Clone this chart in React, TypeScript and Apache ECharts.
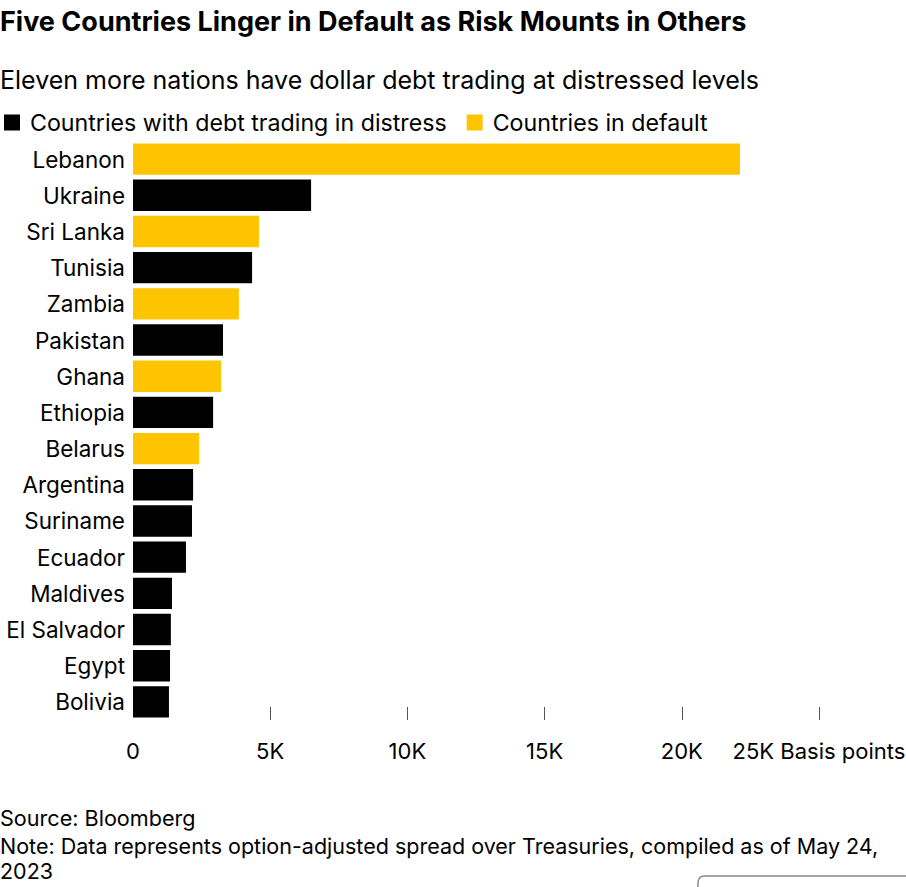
import React, { useEffect, useRef } from "react";
import * as echarts from "echarts";

const countries = [
  "Lebanon", "Ukraine", "Sri Lanka", "Tunisia", "Zambia", "Pakistan", "Ghana", "Ethiopia",
  "Belarus", "Argentina", "Suriname", "Ecuador", "Maldives", "El Salvador", "Egypt", "Bolivia",
];
const spreads = [
  22120, 6490, 4590, 4340, 3860, 3280, 3210, 2920,
  2410, 2190, 2150, 1930, 1420, 1380, 1350, 1310,
];
const inDefault = [
  true, false, true, false, true, false, true, false,
  true, false, false, false, false, false, false, false,
];
const tickValues = [0, 5000, 10000, 15000, 20000, 25000];
const tickLabels = ["0", "5K", "10K", "15K", "20K", "25K Basis points"];

const seriesNames = ["Countries with debt trading in distress", "Countries in default"];
const colors = ["#000000", "#ffc400"];

const titleText = "Five Countries Linger in Default as Risk Mounts in Others";
const subtitleText = "Eleven more nations have dollar debt trading at distressed levels";
const sourceText = "Source: Bloomberg";
const noteText = "Note: Data represents option-adjusted spread over Treasuries, compiled as of May 24,\n2023";

const FONT = "Inter, 'Liberation Sans', Arial, sans-serif";

export default function App() {
  const ref = useRef<HTMLDivElement>(null);
  useEffect(() => {
    document.body.style.margin = "0";
    if (!ref.current) return;
    const chart = echarts.init(ref.current, undefined, { renderer: "svg" });
    const distress = spreads.map((v, i) => (inDefault[i] ? "-" : v));
    const dflt = spreads.map((v, i) => (inDefault[i] ? v : "-"));
    chart.setOption({
      animation: false,
      textStyle: { fontFamily: FONT },
      title: [
        {
          text: titleText,
          left: 0,
          top: 3,
          padding: [5, 5, 5, 0],
          textStyle: { fontSize: 27, fontWeight: 700, color: "#000", fontFamily: FONT },
        },
        {
          text: subtitleText,
          left: 0,
          top: 62,
          padding: [5, 5, 5, 0],
          textStyle: { fontSize: 25, fontWeight: 400, color: "#000", fontFamily: FONT },
        },
      ],
      legend: {
        left: -1,
        top: 106,
        itemWidth: 16,
        itemHeight: 16,
        itemGap: 20,
        icon: "rect",
        textStyle: { fontSize: 23.2, color: "#000", padding: [0, 0, 0, 5], fontFamily: FONT },
        data: seriesNames,
      },
      grid: {
        left: 133,
        right: 87,
        top: 141,
        bottom: 167,
        containLabel: false,
        outerBoundsMode: "none",
      },
      xAxis: {
        type: "value",
        min: 0,
        max: 25000,
        interval: 5000,
        axisLine: { show: false },
        splitLine: { show: false },
        axisTick: {
          show: true,
          inside: true,
          length: 13,
          lineStyle: { color: "#555", width: 1 },
          customValues: tickValues.slice(1),
        },
        axisLabel: {
          margin: 20,
          fontSize: 22,
          color: "#000",
          fontFamily: FONT,
          hideOverlap: false,
          formatter: (v: number) => {
            const i = tickValues.indexOf(v);
            return i >= 0 ? tickLabels[i] : "";
          },
        },
      },
      yAxis: {
        type: "category",
        inverse: true,
        data: countries,
        axisLine: { show: false },
        axisTick: { show: false },
        axisLabel: { margin: 8, fontSize: 22.5, color: "#000", fontFamily: FONT, padding: [0, 0, 6, 0] },
      },
      series: [
        {
          name: seriesNames[0],
          type: "bar",
          stack: "all",
          data: distress,
          itemStyle: { color: colors[0] },
          barCategoryGap: "13.4%",
        },
        {
          name: seriesNames[1],
          type: "bar",
          stack: "all",
          data: dflt,
          itemStyle: { color: colors[1] },
          barCategoryGap: "13.4%",
        },
      ],
      graphic: [
        {
          type: "text",
          left: 0,
          top: 807,
          style: { text: sourceText, fontSize: 21.6, fill: "#000", fontFamily: FONT },
        },
        {
          type: "text",
          left: 0,
          top: 833,
          style: { text: noteText, fontSize: 21.5, lineHeight: 25, fill: "#000", fontFamily: FONT },
        },
        {
          type: "rect",
          shape: { x: 698, y: 876, width: 260, height: 40, r: 6 },
          style: { fill: "none", stroke: "#888", lineWidth: 1.5 },
        },
      ],
    });
    return () => chart.dispose();
  }, []);
  return <div ref={ref} style={{ width: 906, height: 887 }} />;
}
